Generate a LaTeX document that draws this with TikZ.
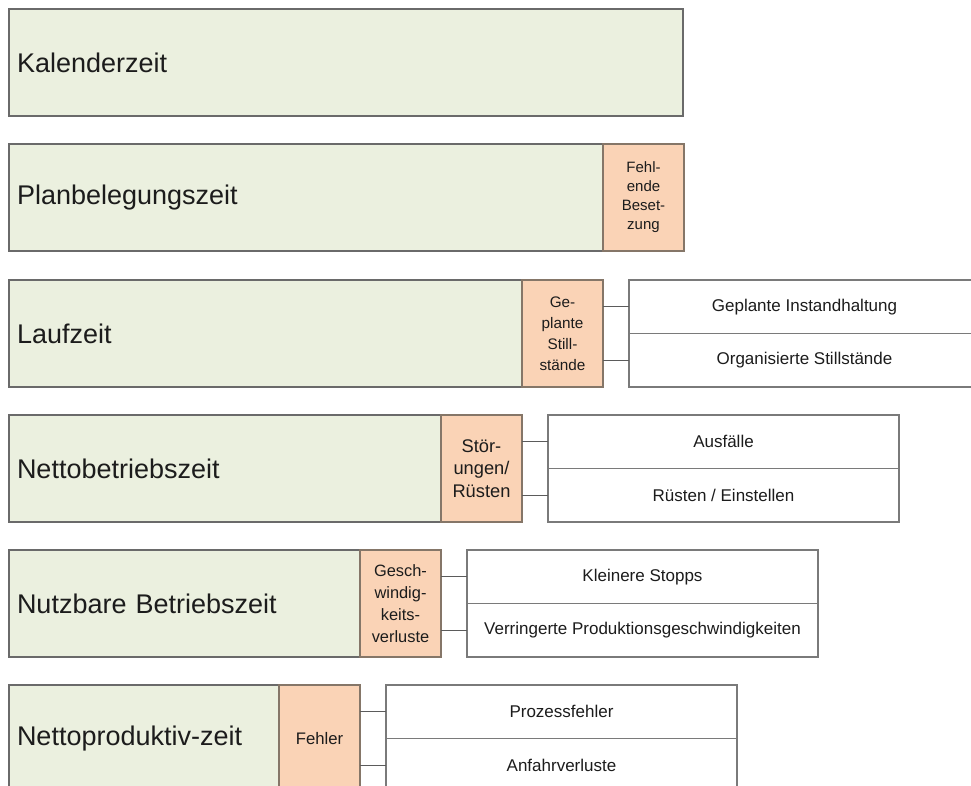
\documentclass[tikz,border=0pt]{standalone}
\usepackage{fontspec}
\setmainfont{Liberation Sans}
\definecolor{grnfill}{HTML}{EBF0DF}
\definecolor{grnline}{HTML}{6A6A6A}
\definecolor{orfill}{HTML}{FAD3B6}
\definecolor{orline}{HTML}{857668}
\definecolor{boxline}{HTML}{7A7A7A}
\definecolor{ink}{HTML}{1C1C1C}
\begin{document}
\begin{tikzpicture}[x=1pt,y=-1pt,
  every node/.style={inner sep=0pt, outer sep=0pt, anchor=north west, text=ink},
  timebox/.style={draw=grnline, fill=grnfill, line width=1.3pt, minimum height=107pt,
    inner xsep=8pt, align=left, font=\fontsize{27}{30}\selectfont},
  lossbox/.style={draw=orline, fill=orfill, line width=1.3pt, minimum width=81pt,
    minimum height=107pt, align=center, font=\fontsize{15}{19}\selectfont},
  causebox/.style={draw=boxline, fill=white, line width=1.3pt, minimum width=351pt,
    minimum height=53.5pt, font=\fontsize{17}{20}\selectfont},
  link/.style={draw=boxline!75!black, line width=1.3pt}
]
\useasboundingbox (0,0) rectangle (971,785);
\clip (0,0) rectangle (971,785);
\fill[white] (0,0) rectangle (971,785);

% Row 1
\node[timebox, text width=658pt] (t1) at (9,9) {Kalenderzeit};

% Row 2
\node[timebox, text width=578pt] (t2) at (9,144) {Planbelegungszeit};
\node[lossbox] (l2) at (603,144) {Fehl-\\ende\\Beset-\\zung};

% Row 3
\node[timebox, text width=497pt] (t3) at (9,280) {Laufzeit};
\node[lossbox, font=\fontsize{15.3}{21}\selectfont] (l3) at (522,280) {Ge-\\plante\\Still-\\stände};
\node[causebox] (c3a) at (629,280) {Geplante Instandhaltung};
\node[causebox] (c3b) at (629,333.5) {Organisierte Stillstände};
\draw[link] (l3.east |- c3a.west) -- (c3a.west);
\draw[link] (l3.east |- c3b.west) -- (c3b.west);

% Row 4
\node[timebox, text width=416pt] (t4) at (9,415) {Nettobetriebszeit};
\node[lossbox, font=\fontsize{18.3}{22.5}\selectfont] (l4) at (441,415) {Stör-\\ungen/\\Rüsten};
\node[causebox] (c4a) at (548,415) {Ausfälle};
\node[causebox] (c4b) at (548,468.5) {Rüsten / Einstellen};
\draw[link] (l4.east |- c4a.west) -- (c4a.west);
\draw[link] (l4.east |- c4b.west) -- (c4b.west);

% Row 5
\node[timebox, text width=335pt] (t5) at (9,550) {Nutzbare Betriebszeit};
\node[lossbox, font=\fontsize{16.4}{22}\selectfont] (l5) at (360,550) {Gesch-\\windig-\\keits-\\verluste};
\node[causebox] (c5a) at (467,550) {Kleinere Stopps};
\node[causebox] (c5b) at (467,603.5) {Verringerte Produktionsgeschwindigkeiten};
\draw[link] (l5.east |- c5a.west) -- (c5a.west);
\draw[link] (l5.east |- c5b.west) -- (c5b.west);

% Row 6
\node[timebox, text width=254pt] (t6) at (9,685) {Nettoproduktiv-zeit};
\node[lossbox, font=\fontsize{16.7}{20}\selectfont] (l6) at (279,685) {Fehler};
\node[causebox] (c6a) at (386,685) {Prozessfehler};
\node[causebox] (c6b) at (386,738.5) {Anfahrverluste};
\draw[link] (l6.east |- c6a.west) -- (c6a.west);
\draw[link] (l6.east |- c6b.west) -- (c6b.west);
\end{tikzpicture}
\end{document}
